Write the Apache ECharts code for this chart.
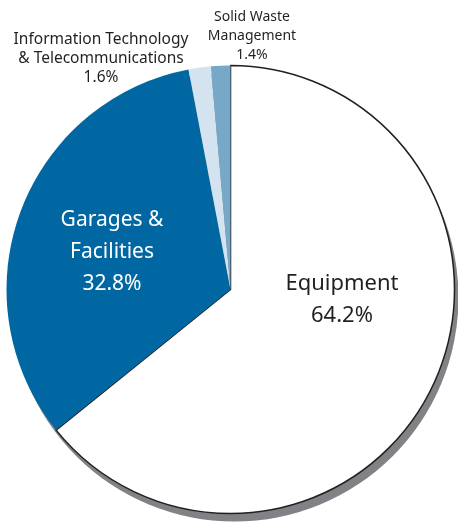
<!DOCTYPE html>
<html>
<head>
<meta charset="utf-8">
<script src="https://cdn.jsdelivr.net/npm/echarts@6/dist/echarts.min.js"></script>
<style>
  html, body { margin: 0; padding: 0; background: #ffffff; }
  #chart { width: 458px; height: 522px; }
</style>
</head>
<body>
<div id="chart"></div>
<script>
// Capital budget shares by program area (percent)
const categories = [
  'Equipment',
  'Garages &\nFacilities',
  'Information Technology\n& Telecommunications',
  'Solid Waste\nManagement'
];
const shares = [64.2, 32.8, 1.6, 1.4];
const sliceColors = ['#ffffff', '#0067a3', '#d3e4f0', '#78a8c8'];

// Label anchor points (pixels) for each slice label
const labelSpots = [
  { x: 342, y: 300, size: 22, color: '#231f20', lh: 32 },
  { x: 112, y: 252, size: 21, color: '#ffffff', lh: 32 },
  { x: 101, y: 59,  size: 15.5, color: '#231f20', lh: 19 },
  { x: 252, y: 36,  size: 14, color: '#231f20', lh: 19 }
];

const center = [230.5, 289.5];
const radius = 224;

const chart = echarts.init(document.getElementById('chart'), null, { renderer: 'canvas' });

chart.setOption({
  animation: false,
  textStyle: { fontFamily: 'Noto Sans' },
  series: [
    {
      // drop shadow disc behind the pie
      type: 'pie',
      silent: true,
      center: [center[0] + 4, center[1] + 8],
      radius: radius,
      startAngle: 90,
      label: { show: false },
      labelLine: { show: false },
      itemStyle: { color: '#808285' },
      data: [{ value: 1, name: 'shadow' }],
      z: 1
    },
    {
      type: 'pie',
      center: center,
      radius: radius,
      startAngle: 90,
      clockwise: true,
      z: 2,
      labelLine: { show: false },
      data: categories.map((name, i) => ({
        name: name,
        value: shares[i],
        itemStyle: i === 0
          ? { color: sliceColors[i], borderColor: '#231f20', borderWidth: 1.5 }
          : { color: sliceColors[i], borderWidth: 0 },
        label: {
          show: true,
          position: i < 2 ? 'inside' : 'outside',
          formatter: p => p.name + '\n' + p.value.toFixed(1) + '%',
          color: labelSpots[i].color,
          fontSize: labelSpots[i].size,
          lineHeight: labelSpots[i].lh,
          align: 'center',
          overflow: 'none',
          width: 240,
          fontFamily: 'Noto Sans'
        }
      })),
      labelLayout: params => {
        const s = labelSpots[params.dataIndex];
        return { x: s.x, y: s.y, align: 'center', verticalAlign: 'middle' };
      }
    }
  ]
});
</script>
</body>
</html>
